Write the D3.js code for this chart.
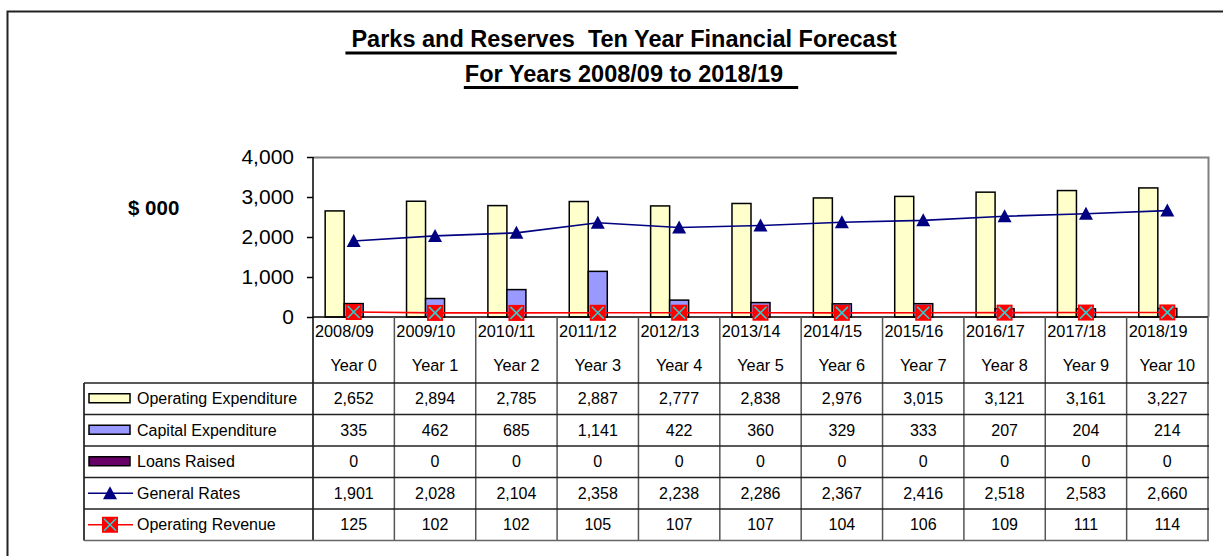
<!DOCTYPE html>
<html>
<head>
<meta charset="utf-8">
<script src="https://cdn.jsdelivr.net/npm/d3@7"></script>
<style>
  body { margin: 0; background: #fff; }
  svg { font-family: Arial, "Liberation Sans", sans-serif; }
</style>
</head>
<body>
<div id="chart"></div>
<script>
// ---- data ----
const periods = ["2008/09", "2009/10", "2010/11", "2011/12", "2012/13", "2013/14", "2014/15", "2015/16", "2016/17", "2017/18", "2018/19"];
const yearLabels = ["Year 0", "Year 1", "Year 2", "Year 3", "Year 4", "Year 5", "Year 6", "Year 7", "Year 8", "Year 9", "Year 10"];
const operatingExpenditure = [2652, 2894, 2785, 2887, 2777, 2838, 2976, 3015, 3121, 3161, 3227];
const capitalExpenditure = [335, 462, 685, 1141, 422, 360, 329, 333, 207, 204, 214];
const loansRaised = [0, 0, 0, 0, 0, 0, 0, 0, 0, 0, 0];
const generalRates = [1901, 2028, 2104, 2358, 2238, 2286, 2367, 2416, 2518, 2583, 2660];
const operatingRevenue = [125, 102, 102, 105, 107, 107, 104, 106, 109, 111, 114];
const yTicks = [0, 1000, 2000, 3000, 4000];

const barSeries = [
  {name: "Operating Expenditure", values: operatingExpenditure, fill: "#FFFFCC"},
  {name: "Capital Expenditure", values: capitalExpenditure, fill: "#9999FF"},
  {name: "Loans Raised", values: loansRaised, fill: "#660066"}
];
const lineSeries = [
  {name: "General Rates", values: generalRates, color: "#000080", marker: "triangle"},
  {name: "Operating Revenue", values: operatingRevenue, color: "#FF0000", marker: "xbox"}
];

// ---- layout ----
const W = 1223, H = 556;
const plot = {left: 313, right: 1208, top: 157, bottom: 317};
const tableLeft = 84;
const headerBottom = 383;
const rowH = 31.5;

const svg = d3.select("#chart").append("svg")
  .attr("width", W).attr("height", H);

// outer chart border
svg.append("path")
  .attr("d", `M7.5,${H} V11.5 H${W}`)
  .attr("fill", "none")
  .attr("stroke", "#222")
  .attr("stroke-width", 2);

// title
const titleLines = [
  {text: "Parks and Reserves  Ten Year Financial Forecast", y: 47, ulY: 51.5, padL: 6, padR: 0},
  {text: "For Years 2008/09 to 2018/19", y: 82, ulY: 86, padL: 1, padR: 15}
];
titleLines.forEach(t => {
  const node = svg.append("text")
    .attr("x", 624).attr("y", t.y)
    .attr("text-anchor", "middle")
    .attr("font-size", 23.5).attr("font-weight", "bold")
    .style("white-space", "pre")
    .text(t.text);
  const bb = node.node().getBBox();
  svg.append("rect")
    .attr("x", bb.x - t.padL).attr("y", t.ulY)
    .attr("width", bb.width + t.padL + t.padR).attr("height", 3)
    .attr("fill", "#000");
});

// ---- scales ----
const x = d3.scaleBand().domain(periods).range([plot.left, plot.right]).padding(0);
const xInner = d3.scaleBand().domain(barSeries.map(s => s.name))
  .range([0, x.bandwidth()]).paddingInner(0).paddingOuter(0.64);
const y = d3.scaleLinear().domain([0, 4000]).range([plot.bottom, plot.top]);

// plot area frame (grey top/right)
svg.append("path")
  .attr("d", `M${plot.left},${plot.top + 0.5} H${plot.right + 0.5} V${plot.bottom}`)
  .attr("fill", "none").attr("stroke", "#808080").attr("stroke-width", 2);

// y axis
const yAxis = svg.append("g")
  .attr("transform", `translate(${plot.left},0)`)
  .call(d3.axisLeft(y).tickValues(yTicks).tickFormat(d3.format(",")).tickSize(6).tickPadding(13));
yAxis.select(".domain").attr("stroke", "#000").attr("stroke-width", 1.5).attr("d", `M0,${plot.top}V${plot.bottom}`);
yAxis.selectAll(".tick line").attr("stroke", "#000").attr("stroke-width", 1.5);
yAxis.selectAll(".tick text").attr("font-size", 21).attr("font-family", "Arial, 'Liberation Sans', sans-serif").attr("fill", "#000");

svg.append("text")
  .attr("x", 128).attr("y", 215)
  .attr("font-size", 20.5).attr("font-weight", "bold")
  .text("$ 000");

// bars
barSeries.forEach(s => {
  svg.append("g").selectAll("rect")
    .data(s.values.map((v, i) => ({v, p: periods[i]})).filter(d => d.v > 0))
    .join("rect")
      .attr("x", d => x(d.p) + xInner(s.name))
      .attr("y", d => y(d.v))
      .attr("width", xInner.bandwidth())
      .attr("height", d => y(0) - y(d.v))
      .attr("fill", s.fill)
      .attr("stroke", "#000")
      .attr("stroke-width", 1.5);
});

// x axis line
svg.append("line")
  .attr("x1", plot.left).attr("x2", plot.right)
  .attr("y1", plot.bottom).attr("y2", plot.bottom)
  .attr("stroke", "#000").attr("stroke-width", 1.5);

// marker drawing
function drawMarker(g, type, cx, cy, color) {
  if (type === "triangle") {
    g.append("path")
      .attr("d", `M${cx},${cy - 7} L${cx + 7},${cy + 6} L${cx - 7},${cy + 6} Z`)
      .attr("fill", color);
  } else {
    g.append("rect")
      .attr("x", cx - 8).attr("y", cy - 8)
      .attr("width", 16).attr("height", 16)
      .attr("fill", "#FF0000");
    g.append("path")
      .attr("d", `M${cx - 6},${cy - 6} L${cx + 6},${cy + 6} M${cx + 6},${cy - 6} L${cx - 6},${cy + 6}`)
      .attr("stroke", "#33CCCC").attr("stroke-width", 1.6);
  }
}

const cx = p => x(p) + x.bandwidth() / 2;

lineSeries.forEach(s => {
  const g = svg.append("g");
  g.append("path")
    .datum(s.values)
    .attr("d", d3.line().x((d, i) => cx(periods[i])).y(d => y(d)))
    .attr("fill", "none")
    .attr("stroke", s.color)
    .attr("stroke-width", 1.6);
  s.values.forEach((v, i) => drawMarker(g, s.marker, cx(periods[i]), y(v), s.color));
});

// ---- data table ----
const table = svg.append("g");
const tableBottom = headerBottom + rowH * 5;
const fmt = d3.format(",");

// header labels
periods.forEach((p, i) => {
  table.append("text")
    .attr("x", x(p) + 2).attr("y", 336.5)
    .attr("font-size", 16.3)
    .text(p);
  table.append("text")
    .attr("x", cx(p)).attr("y", 370.5)
    .attr("text-anchor", "middle")
    .attr("font-size", 16.3)
    .text(yearLabels[i]);
});

// vertical lines
[plot.left, ...periods.map(p => x(p) + x.bandwidth())].forEach((vx, i) => {
  table.append("line")
    .attr("x1", vx).attr("x2", vx)
    .attr("y1", plot.bottom).attr("y2", tableBottom)
    .attr("stroke", i === 0 ? "#000" : "#555").attr("stroke-width", 1.5);
});
table.append("line")
  .attr("x1", tableLeft).attr("x2", tableLeft)
  .attr("y1", headerBottom).attr("y2", tableBottom)
  .attr("stroke", "#000").attr("stroke-width", 1.5);

// horizontal lines
d3.range(6).forEach(r => {
  table.append("line")
    .attr("x1", tableLeft).attr("x2", plot.right + 1)
    .attr("y1", headerBottom + r * rowH).attr("y2", headerBottom + r * rowH)
    .attr("stroke", r === 5 ? "#666" : "#222").attr("stroke-width", 1.5);
});

const rows = [
  ...barSeries.map(s => ({...s, kind: "bar"})),
  ...lineSeries.map(s => ({...s, kind: "line"}))
];

rows.forEach((row, r) => {
  const midY = headerBottom + r * rowH + rowH / 2;
  // legend key
  if (row.kind === "bar") {
    table.append("rect")
      .attr("x", 89).attr("y", midY - 5)
      .attr("width", 41).attr("height", 9)
      .attr("fill", row.fill).attr("stroke", "#000").attr("stroke-width", 1.5);
  } else {
    table.append("line")
      .attr("x1", 88).attr("x2", 133)
      .attr("y1", midY).attr("y2", midY)
      .attr("stroke", row.color).attr("stroke-width", 1.5);
    drawMarker(table, row.marker, 110, midY, row.color);
  }
  table.append("text")
    .attr("x", 137).attr("y", midY + 5.5)
    .attr("font-size", 16)
    .text(row.name);
  row.values.forEach((v, i) => {
    table.append("text")
      .attr("x", cx(periods[i])).attr("y", midY + 5.5)
      .attr("text-anchor", "middle")
      .attr("font-size", 16)
      .text(fmt(v));
  });
});
</script>
</body>
</html>
